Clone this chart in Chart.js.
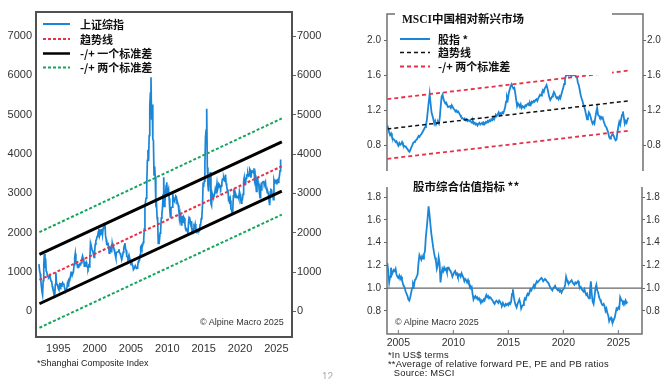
<!DOCTYPE html>
<html><head><meta charset="utf-8">
<script src="https://cdn.jsdelivr.net/npm/chart.js@4.4.1/dist/chart.umd.min.js"></script>
<style>
html,body{margin:0;padding:0;background:#fff;width:667px;height:379px;overflow:hidden;position:relative;font-family:"Liberation Sans",Arial,sans-serif;}
canvas{position:absolute;}
.note{position:absolute;font-size:9px;color:#222;white-space:nowrap;line-height:9px;}
.rn{font-size:9.4px;letter-spacing:0.2px;}
</style></head><body>
<canvas id="c1" width="340" height="360" style="left:0;top:0;width:340px;height:360px"></canvas>
<canvas id="c2" width="327" height="180" style="left:340px;top:0;width:327px;height:180px"></canvas>
<canvas id="c3" width="327" height="172" style="left:340px;top:178px;width:327px;height:172px"></canvas>
<div class="note" style="left:200px;top:318px;color:#333">© Alpine Macro 2025</div>
<div class="note" style="left:395px;top:318px;color:#333">© Alpine Macro 2025</div>
<div class="note" style="left:37px;top:359px">*Shanghai Composite Index</div>
<div class="note rn" style="left:388px;top:350px">*In US$ terms</div>
<div class="note rn" style="left:388px;top:359px">**Average of relative forward PE, PE and PB ratios</div>
<div class="note rn" style="left:391px;top:368px">&nbsp;Source: MSCI</div>
<div class="note" style="left:322px;top:372px;color:#aaa;font-size:10px">12</div>
<script>
// ---------------- data: Shanghai Composite (monthly from May 1992) ----------------
const shStart = 1992 + 4 / 12;
const shanghai = [
 1200,1050,960,800,640,500,420,780,
 1200,1460,1100,1350,1020,1000,900,880,870,900,960,830,
 770,780,640,570,560,470,340,680,990,720,690,650,
 580,550,650,580,720,640,700,730,690,710,610,560,
 540,550,570,700,650,800,830,820,880,990,1010,920,
 920,1010,1180,1360,1470,1250,1220,1200,1100,1180,1160,1190,
 1220,1210,1240,1350,1410,1340,1310,1150,1230,1220,1250,1150,
 1130,1090,1160,1130,1280,1690,1600,1620,1550,1520,1450,1370,
 1530,1710,1800,1830,1900,1930,2020,2100,1910,1960,2070,2070,
 2100,1960,2110,2120,2210,2230,1920,1830,1700,1690,1750,1650,
 1480,1500,1600,1640,1500,1730,1640,1650,1580,1510,1430,1360,
 1500,1510,1510,1520,1580,1490,1480,1420,1370,1350,1400,1500,
 1590,1680,1740,1590,1550,1400,1390,1340,1400,1320,1340,1270,
 1190,1310,1180,1160,1060,1080,1080,1160,1160,1090,1100,1160,
 1260,1300,1300,1440,1640,1670,1610,1660,1750,1840,2100,2680,
 2790,2880,3180,3840,4110,3820,4470,5220,5550,5950,4870,5260,
 4380,4350,3470,3690,3430,2740,2780,2400,2290,1730,1870,1820,
 1990,2080,2370,2480,2630,2960,3410,2670,2780,2990,3200,3280,
 2990,3050,3110,2870,2590,2400,2640,2640,2650,2980,2820,2810,
 2790,2900,2930,2910,2740,2760,2700,2570,2360,2470,2330,2200,
 2290,2430,2260,2400,2370,2230,2100,2050,2090,2070,1980,2270,
 2390,2370,2240,2180,2300,1980,1990,2100,2170,2140,2220,2120,
 2030,2060,2030,2030,2040,2050,2200,2220,2360,2420,2680,3230,
 3210,3310,3750,4440,4610,5150,3660,3210,3050,3380,3450,3540,
 2740,2690,3000,2940,2920,2930,2980,3090,3000,3100,3250,3100,
 3160,3240,3220,3150,3120,3190,3270,3360,3350,3390,3320,3310,
 3480,3260,3170,3080,3100,2850,2880,2730,2820,2600,2590,2490,
 2580,2940,3090,3080,2900,2980,2930,2890,2910,2930,2870,3050,
 2980,2880,2750,2860,2850,2980,3310,3400,3220,3220,3390,3470,
 3480,3510,3440,3450,3620,3590,3400,3540,3570,3550,3560,3640,
 3360,3460,3250,3050,3190,3400,3250,3200,3020,2890,3150,3090,
 3260,3280,3270,3320,3200,3200,3290,3120,3110,3020,3030,2970,
 2790,2700,3040,3100,3090,2970,2940,2840,3340,3280,3330,3350,
 3250,3320,3340,3280,3350,3440,3570,3860
];
const shTrendX = [1992.4, 2025.75];
const shTrend  = [800, 3690];
const shUp1    = [1450, 4310];
const shLow1   = [195, 3055];
const shUp2    = [2015, 4905];
const shLow2   = [-415, 2460];
const shYTicks = [0, 1000, 2000, 3000, 4000, 5000, 6000, 7000];
const shXTicks = [1995, 2000, 2005, 2010, 2015, 2020, 2025];
const shLabels = ['上证综指', '趋势线', '-/+ 一个标准差', '-/+ 两个标准差'];

// ---------------- data: MSCI China vs EM (monthly from Jan 2004) ----------------
const emStart = 2004;
const msciRel = [
 1.03,1.00,0.95,0.92,0.94,0.90,0.88,0.87,
 0.86,0.84,0.85,0.82,0.80,0.83,0.81,0.82,0.84,0.81,0.80,0.79,
 0.79,0.77,0.76,0.74,0.73,0.75,0.78,0.80,0.83,0.84,0.85,
 0.86,0.87,0.89,0.91,0.90,0.92,0.93,0.95,0.97,0.99,1.01,1.03,
 1.10,1.20,1.30,1.39,1.28,1.18,1.14,1.10,1.05,1.08,1.04,1.06,
 1.07,1.05,1.12,1.25,1.36,1.38,1.33,1.30,1.28,1.29,1.26,1.24,
 1.24,1.25,1.23,1.26,1.24,1.22,1.21,1.19,1.20,1.18,1.19,1.17,
 1.15,1.13,1.12,1.11,1.10,1.11,1.09,1.10,1.08,1.09,1.08,
 1.09,1.07,1.06,1.08,1.05,1.06,1.04,1.05,1.03,1.05,1.06,1.04,
 1.05,1.06,1.04,1.06,1.05,1.07,1.06,1.08,1.07,1.09,1.08,1.10,
 1.09,1.12,1.10,1.13,1.15,1.14,1.16,1.18,1.15,1.17,1.16,1.18,
 1.17,1.20,1.24,1.30,1.36,1.33,1.40,1.44,1.48,1.50,1.47,1.45,
 1.46,1.40,1.32,1.25,1.28,1.26,1.24,1.27,1.23,1.25,1.24,
 1.23,1.26,1.25,1.27,1.28,1.26,1.29,1.27,1.30,1.29,1.31,1.30,
 1.32,1.33,1.31,1.34,1.36,1.38,1.37,1.40,1.43,1.41,1.45,1.47,
 1.49,1.45,1.40,1.35,1.32,1.34,1.36,1.38,1.41,1.39,1.36,1.34,
 1.35,1.33,1.36,1.34,1.38,1.42,1.45,1.50,1.55,1.60,1.60,1.61,
 1.60,1.61,1.60,1.59,1.60,1.61,1.60,1.60,1.60,1.58,1.52,
 1.49,1.44,1.38,1.34,1.31,1.27,1.24,1.20,1.15,1.10,1.13,1.18,
 1.16,1.12,1.08,1.05,1.07,1.05,1.12,1.18,1.23,1.15,1.14,1.12,
 1.13,1.11,1.12,1.08,1.05,1.02,1.01,0.98,0.95,0.90,0.88,0.90,
 0.92,0.93,0.91,0.88,0.86,0.87,0.95,1.02,1.07,1.04,1.10,1.15,
 1.19,1.12,1.05,1.08,1.06,1.10,1.12
];
const valuation = [
 1.22,1.15,1.05,1.10,1.18,1.12,1.14,1.16,
 1.15,1.17,1.12,1.10,1.09,1.11,1.08,1.10,1.07,1.04,1.02,1.00,
 0.97,0.95,0.93,0.90,0.89,0.92,0.96,1.00,1.04,1.02,1.07,
 1.08,1.10,1.12,1.22,1.29,1.27,1.25,1.28,1.26,1.30,1.32,1.45,
 1.53,1.62,1.72,1.65,1.56,1.48,1.42,1.36,1.31,1.27,1.24,1.17,
 1.20,1.27,1.22,1.05,1.12,1.17,1.15,1.18,1.16,1.17,1.14,1.18,
 1.18,1.16,1.15,1.13,1.10,1.12,1.14,1.15,1.12,1.13,1.10,1.11,
 1.12,1.10,1.13,1.11,1.09,1.06,1.08,1.07,1.05,1.07,1.04,
 1.03,1.00,1.01,0.95,0.90,0.92,0.93,0.91,0.92,0.90,0.91,0.89,
 0.87,0.89,0.88,0.90,0.89,0.92,0.94,0.92,0.93,0.91,0.92,0.91,
 0.90,0.89,0.87,0.86,0.88,0.89,0.88,0.87,0.89,0.88,0.86,0.85,
 0.87,0.85,0.84,0.86,0.85,0.86,0.85,0.87,0.86,0.88,0.95,0.99,
 0.92,0.88,0.85,0.83,0.86,0.88,0.90,0.87,0.82,0.84,0.85,
 0.88,0.91,0.90,0.93,0.95,0.94,0.96,0.99,0.98,1.00,1.01,1.03,
 1.02,1.04,1.06,1.05,1.06,1.07,1.08,1.09,1.08,1.06,1.07,1.08,
 1.07,1.06,1.05,1.04,1.02,1.00,0.99,0.98,1.00,1.01,1.02,1.00,
 0.99,0.98,0.99,0.97,0.98,0.96,0.98,0.99,1.00,1.03,1.10,1.07,
 1.05,1.04,1.05,1.06,1.07,1.05,1.04,1.03,1.05,1.04,1.05,
 1.06,1.03,1.00,1.01,0.99,0.98,0.97,0.99,0.96,0.94,0.95,0.92,
 0.91,0.97,1.06,0.95,0.88,0.86,0.92,1.00,1.03,0.98,0.96,0.92,
 0.90,0.88,0.86,0.85,0.86,0.84,0.80,0.82,0.78,0.76,0.71,0.73,
 0.74,0.71,0.70,0.72,0.74,0.78,0.82,0.81,0.83,0.82,0.92,0.90,
 0.89,0.87,0.88,0.86,0.89,0.87,0.88
];
const relTrendX = [2004.0, 2025.85];
const relTrend  = [0.99, 1.31];
const relUp2    = [1.33, 1.655];
const relLow2   = [0.65, 0.97];
const relYTicks = [0.8, 1.2, 1.6, 2.0];
const valYTicks = [0.8, 1.0, 1.2, 1.4, 1.6, 1.8];
const valRefX   = [2003.9, 2027.3];
const valRef    = [1.0, 1.0];
const emXTicks  = [2005, 2010, 2015, 2020, 2025];
const relTitle  = 'MSCI中国相对新兴市场';
const relLabels = ['股指 *', '趋势线', '-/+ 两个标准差'];
const valTitle  = '股市综合估值指标 **';

// ---------------- helpers ----------------
const monthly = (start, vals) => vals.map((v, i) => ({ x: start + i / 12, y: v }));
const seg = (xs, ys) => xs.map((x, i) => ({ x: x, y: ys[i] }));
const BLUE = '#1a86d8', RED = '#e5324a', GREEN = '#14a55a';
const LEG_FONT = 'bold 11px "Noto Sans CJK SC"';

function ds(data, color, width, dash) {
  return { data: data, borderColor: color, backgroundColor: color, borderWidth: width,
           borderDash: dash || [], pointRadius: 0, fill: false, tension: 0 };
}
function yAxis(pos, min, max, ticks, width, tickLen, pad, size, fmt) {
  return {
    type: 'linear', position: pos, min: min, max: max,
    afterBuildTicks: s => { s.ticks = ticks.map(v => ({ value: v })); },
    afterFit: s => { s.width = width; },
    grid: tickLen ? { display: true, drawOnChartArea: false, drawTicks: true, tickLength: tickLen, color: '#666', lineWidth: 1 }
                  : { display: false, drawTicks: false },
    border: { display: false },
    ticks: { padding: pad, color: '#333', font: { size: size, family: 'Liberation Sans' }, callback: fmt }
  };
}
function xAxis(min, max, ticks, height, pad, size, show) {
  return {
    type: 'linear', position: 'bottom', min: min, max: max, display: show,
    afterBuildTicks: s => { s.ticks = ticks.map(v => ({ value: v })); },
    afterFit: s => { s.height = height; },
    grid: { display: false, drawTicks: false }, border: { display: false },
    ticks: { padding: pad, color: '#333', maxRotation: 0, autoSkip: false,
             font: { size: size, family: 'Liberation Sans' }, callback: v => String(v) }
  };
}
function drawLegend(ctx, items, lx0, lx1, tx, ys) {
  ctx.save();
  items.forEach((it, i) => {
    ctx.beginPath();
    ctx.setLineDash(it.dash);
    ctx.strokeStyle = it.color; ctx.lineWidth = it.width;
    ctx.moveTo(lx0, ys[i]); ctx.lineTo(lx1, ys[i]); ctx.stroke();
    ctx.setLineDash([]);
    ctx.fillStyle = '#111'; ctx.font = LEG_FONT;
    ctx.textBaseline = 'middle'; ctx.textAlign = 'left';
    ctx.fillText(it.text, tx, ys[i] + 0.5);
  });
  ctx.restore();
}
const base = {
  responsive: false, animation: false, devicePixelRatio: 1, events: [],
  plugins: { legend: { display: false }, tooltip: { enabled: false } },
  elements: { point: { radius: 0 }, line: { tension: 0 } }
};

// ---------------- chart 1: Shanghai ----------------
new Chart(document.getElementById('c1'), {
  type: 'line',
  data: { datasets: [
    ds(seg(shTrendX, shTrend), RED, 2, [3, 2]),
    ds(seg(shTrendX, shUp1), '#000', 3),
    ds(seg(shTrendX, shLow1), '#000', 3),
    ds(seg(shTrendX, shUp2), GREEN, 2, [3, 2]),
    ds(seg(shTrendX, shLow2), GREEN, 2, [3, 2]),
    ds(monthly(shStart, shanghai), BLUE, 1.7)
  ] },
  options: Object.assign({}, base, {
    layout: { padding: { top: 12, left: 0, right: 0, bottom: 0 } },
    scales: {
      x: xAxis(1991.93, 2027.15, shXTicks, 23, 5, 11, true),
      y: yAxis('left', -650, 7610, shYTicks, 36, 0, 4, 11, v => String(v)),
      y2: yAxis('right', -650, 7610, shYTicks, 48, 4, 1, 11, v => String(v))
    }
  }),
  plugins: [{
    id: 'frame1',
    afterDraw(chart) {
      const ctx = chart.ctx, a = chart.chartArea;
      ctx.save();
      ctx.strokeStyle = '#505050'; ctx.lineWidth = 2;
      ctx.strokeRect(a.left, a.top, a.right - a.left, a.bottom - a.top);
      ctx.restore();
      drawLegend(ctx, [
        { text: shLabels[0], color: BLUE, width: 2, dash: [] },
        { text: shLabels[1], color: RED, width: 2, dash: [3, 2] },
        { text: shLabels[2], color: '#000', width: 2.5, dash: [] },
        { text: shLabels[3], color: GREEN, width: 2, dash: [3, 2] }
      ], 43, 70, 80, [24, 39, 53.5, 67.5]);
    }
  }]
});

// ---------------- chart 2: MSCI China relative ----------------
new Chart(document.getElementById('c2'), {
  type: 'line',
  data: { datasets: [
    ds(seg(relTrendX, relTrend), '#111', 1.5, [4, 3]),
    ds(seg(relTrendX, relUp2), RED, 1.8, [4, 3]),
    ds(seg(relTrendX, relLow2), RED, 1.8, [4, 3]),
    ds(monthly(emStart, msciRel), BLUE, 1.8)
  ] },
  options: Object.assign({}, base, {
    layout: { padding: { top: 14, left: 0, right: 0, bottom: 3 } },
    scales: {
      x: xAxis(2003.97, 2027.15, emXTicks, 0, 0, 10, false),
      y: yAxis('left', 0.511, 2.3, relYTicks, 47, 3, 3, 10, v => v.toFixed(1)),
      y2: yAxis('right', 0.511, 2.3, relYTicks, 24, 3, 1, 10, v => v.toFixed(1))
    }
  }),
  plugins: [{
    id: 'frame2',
    afterDatasetsDraw(chart) {
      const ctx = chart.ctx, a = chart.chartArea;
      ctx.save();
      ctx.fillStyle = '#fff';
      ctx.fillRect(55, 6, 217, 69);
      ctx.strokeStyle = '#707070'; ctx.lineWidth = 1.5;
      ctx.beginPath();
      ctx.moveTo(a.left, a.bottom); ctx.lineTo(a.left, a.top); ctx.lineTo(55, a.top);
      ctx.moveTo(272, a.top); ctx.lineTo(a.right, a.top); ctx.lineTo(a.right, a.bottom);
      ctx.stroke();
      ctx.fillStyle = '#111';
      ctx.font = 'bold 11.5px "Liberation Serif", "Noto Sans CJK SC"';
      ctx.textBaseline = 'middle'; ctx.textAlign = 'left';
      ctx.fillText(relTitle, 62, 20.5);
      ctx.restore();
      drawLegend(ctx, [
        { text: relLabels[0], color: BLUE, width: 2, dash: [] },
        { text: relLabels[1], color: '#111', width: 1.5, dash: [4, 3] },
        { text: relLabels[2], color: RED, width: 1.8, dash: [4, 3] }
      ], 60, 90, 98, [39, 52.5, 66.5]);
    }
  }]
});

// ---------------- chart 3: valuation ----------------
new Chart(document.getElementById('c3'), {
  type: 'line',
  data: { datasets: [
    ds(monthly(emStart, valuation), BLUE, 1.8),
    ds(seg(valRefX, valRef), '#666', 1.2)
  ] },
  options: Object.assign({}, base, {
    layout: { padding: { top: 2, left: 0, right: 0, bottom: 0 } },
    scales: {
      x: xAxis(2003.97, 2027.15, emXTicks, 16, 3, 10.5, true),
      y: yAxis('left', 0.596, 1.89, valYTicks, 47, 3, 3, 10, v => v.toFixed(1)),
      y2: yAxis('right', 0.596, 1.89, valYTicks, 25, 3, 1, 10, v => v.toFixed(1))
    }
  }),
  plugins: [{
    id: 'frame3',
    afterDraw(chart) {
      const ctx = chart.ctx, a = chart.chartArea, xs = chart.scales.x;
      ctx.save();
      ctx.strokeStyle = '#707070'; ctx.lineWidth = 1.5;
      ctx.beginPath();
      ctx.moveTo(a.left, a.top); ctx.lineTo(a.left, a.bottom); ctx.lineTo(a.right, a.bottom); ctx.lineTo(a.right, a.top);
      ctx.stroke();
      ctx.lineWidth = 1;
      ctx.beginPath();
      emXTicks.forEach(v => { const p = xs.getPixelForValue(v); ctx.moveTo(p, a.bottom); ctx.lineTo(p, a.bottom - 4); });
      ctx.stroke();
      ctx.fillStyle = '#111'; ctx.font = 'bold 11.5px "Noto Sans CJK SC"';
      ctx.textBaseline = 'middle'; ctx.textAlign = 'left';
      ctx.fillText(valTitle, 73, 8.5);
      ctx.restore();
    }
  }]
});
</script>
</body></html>
